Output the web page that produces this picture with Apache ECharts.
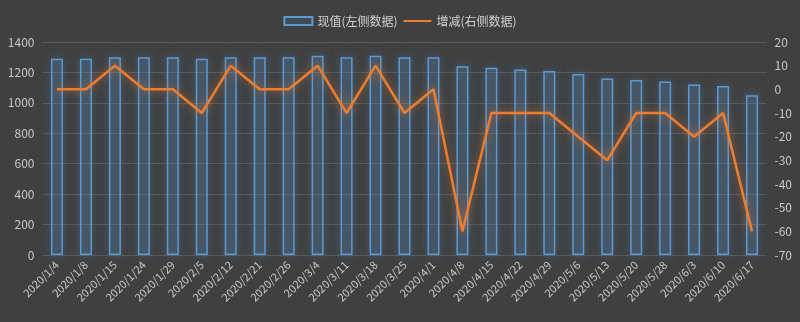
<!DOCTYPE html>
<html><head><meta charset="utf-8">
<script src="https://cdn.jsdelivr.net/npm/echarts@6/dist/echarts.min.js"></script>
<style>html,body{margin:0;padding:0;background:#404040;}#c{width:800px;height:322px;}</style>
</head><body><div id="c"></div>
<script>
const categories = ['2020/1/4','2020/1/8','2020/1/15','2020/1/24','2020/1/29','2020/2/5','2020/2/12','2020/2/21','2020/2/26','2020/3/4','2020/3/11','2020/3/18','2020/3/25','2020/4/1','2020/4/8','2020/4/15','2020/4/22','2020/4/29','2020/5/6','2020/5/13','2020/5/20','2020/5/28','2020/6/3','2020/6/10','2020/6/17'];
const currentValues = [1290,1290,1300,1300,1300,1290,1300,1300,1300,1310,1300,1310,1300,1300,1240,1230,1220,1210,1190,1160,1150,1140,1120,1110,1050];
const changeValues = [0,0,10,0,0,-10,10,0,0,10,-10,10,-10,0,-60,-10,-10,-10,-20,-30,-10,-10,-20,-10,-60];
const seriesNames = ['现值(左侧数据)','增减(右侧数据)'];

const chart = echarts.init(document.getElementById('c'), null, {renderer:'canvas'});
const font = '"Noto Sans CJK SC", "Microsoft YaHei", sans-serif';
chart.setOption({
  backgroundColor:'#404040',
  animation:false,
  textStyle:{fontFamily:font},
  legend:{
    top:10, left:'center', itemGap:6, itemWidth:28, itemHeight:8,
    textStyle:{color:'#d0d0d0', fontSize:12, fontFamily:font},
    data:[
      {name:seriesNames[0], icon:'rect'},
      {name:seriesNames[1], icon:'path://M0,0L0,0M0,3H28V5H0ZM28,8L28,8', itemStyle:{color:'#ed7d31', borderWidth:0}}
    ]
  },
  grid:{left:42.5, right:33.5, top:42, bottom:67},
  xAxis:{
    type:'category', data:categories,
    axisLine:{show:false}, axisTick:{show:false},
    axisLabel:{rotate:45, color:'#c8c8c8', fontSize:11, fontFamily:font, interval:0, margin:8}
  },
  yAxis:[
    {type:'value', min:0, max:1400, interval:200,
     axisLine:{show:false}, axisTick:{show:false},
     axisLabel:{color:'#c8c8c8', fontSize:12, fontFamily:font, margin:8, formatter:v=>String(v)},
     splitLine:{lineStyle:{color:'#5a5a5a', width:1}}},
    {type:'value', min:-70, max:20, interval:10,
     axisLine:{show:false}, axisTick:{show:false},
     axisLabel:{color:'#c8c8c8', fontSize:12, fontFamily:font, margin:8, formatter:v=>String(v)},
     splitLine:{show:false}}
  ],
  series:[
    {name:seriesNames[0], type:'bar', yAxisIndex:0, data:currentValues, barWidth:12,
     itemStyle:{color:'rgba(91,155,213,0.12)', borderColor:'#5b9bd5', borderWidth:1.5,
       shadowBlur:10, shadowColor:'rgba(91,155,213,0.7)'}},
    {name:seriesNames[1], type:'line', yAxisIndex:1, data:changeValues,
     symbol:'none', showSymbol:false, color:'#ed7d31',
     lineStyle:{color:'#ed7d31', width:2.5, shadowBlur:10, shadowColor:'rgba(237,125,49,0.7)'},
     itemStyle:{color:'#ed7d31'}}
  ]
});
</script></body></html>
